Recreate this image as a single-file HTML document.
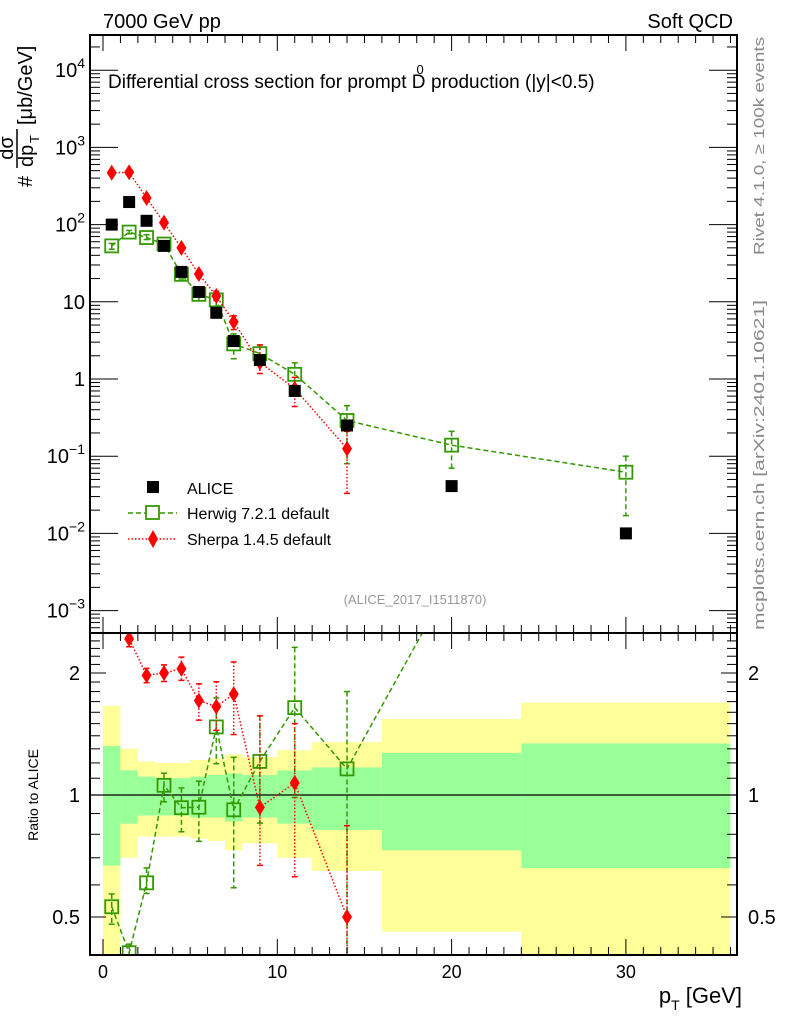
<!DOCTYPE html>
<html><head><meta charset="utf-8">
<style>
html,body{margin:0;padding:0;background:#fff;overflow:hidden;width:786px;height:1024px;}
svg{display:block;font-family:"Liberation Sans",sans-serif;}
</style></head>
<body>
<svg id="chart" width="786" height="1024" viewBox="0 0 786 1024" xmlns="http://www.w3.org/2000/svg">
<g id="ratio-bands"></g>
<g id="marks"></g>
<g id="axes"></g>
<text x="103" y="28" font-size="20">7000 GeV pp</text>
<text x="733" y="28" font-size="20" text-anchor="end">Soft QCD</text>
<text x="108" y="88" font-size="19">Differential cross section for prompt D<tspan font-size="13" dx="-9" dy="-14">0</tspan><tspan dy="14" dx="2"> production (|y|&lt;0.5)</tspan></text>
<g transform="translate(32,187) rotate(-90)">
<text x="0" y="0" font-size="20">#</text>
<text x="39" y="-19" font-size="20" text-anchor="middle">dσ</text>
<line x1="19" y1="-15" x2="58" y2="-15" stroke="#000" stroke-width="1.5"/>
<text x="20" y="1" font-size="20">dp</text>
<text x="44" y="7" font-size="13">T</text>
<text x="62" y="0" font-size="20">[μb/GeV]</text>
</g>
<text transform="translate(764,255) rotate(-90)" font-size="15" fill="#888" textLength="218" lengthAdjust="spacingAndGlyphs">Rivet 4.1.0, ≥ 100k events</text>
<text transform="translate(764,630) rotate(-90)" font-size="15" fill="#888" textLength="330" lengthAdjust="spacingAndGlyphs">mcplots.cern.ch [arXiv:2401.10621]</text>
<text x="415" y="604" font-size="13" fill="#999" text-anchor="middle">(ALICE_2017_I1511870)</text>
<g>
<g><rect x="147" y="481" width="12" height="12" fill="#000"/><text x="187" y="494" font-size="16">ALICE</text></g>
<g><line x1="128" y1="513" x2="177" y2="513" stroke="#339900" stroke-width="1.5" stroke-dasharray="5,3"/><rect x="146" y="506" width="13" height="13" fill="#fff" stroke="#339900" stroke-width="1.8"/><text x="187" y="519" font-size="16">Herwig 7.2.1 default</text></g>
<g><line x1="128" y1="539" x2="177" y2="539" stroke="#ff0000" stroke-width="1.5" stroke-dasharray="1.5,2"/><polygon points="153,530 158,539 153,548 148,539" fill="#ff0000"/><text x="187" y="545" font-size="16">Sherpa 1.4.5 default</text></g>
</g>
<text transform="translate(38,795) rotate(-90)" font-size="14" text-anchor="middle">Ratio to ALICE</text>
<text x="742" y="1003" font-size="22" text-anchor="end">p<tspan font-size="14" dy="7">T</tspan><tspan dy="-7"> [GeV]</tspan></text>
</svg>
<script>
const binEdges=[0,1,2,3,4,5,6,7,8,10,12,16,24,36];
const pt=[0.5,1.5,2.5,3.5,4.5,5.5,6.5,7.5,9,11,14,20,30];
const alice=[100,196,112,53,24.4,13.4,7.2,3.1,1.76,0.70,0.25,0.041,0.0100];
const herwig=[53,80,68,56,22.7,12.5,10.6,2.85,2.13,1.15,0.29,0.139,0.062];
const herwigHi=[57,84,74,60,25.4,14.5,12.5,3.84,2.76,1.62,0.45,0.21,0.10];
const herwigLo=[48,76,64,51,19.8,10.3,8.6,1.83,1.50,0.69,0.08,0.07,0.017];
const sherpa=[470,476,221,106,50,22.9,11.9,5.5,1.64,0.75,0.125];
const sherpaHi=[490,500,230,111,53.4,25.2,13.7,6.6,2.76,1.05,0.21];
const sherpaLo=[450,455,212,101,46.8,20.5,10.4,4.37,1.18,0.44,0.033];
const bandYellowHi=[1.66,1.30,1.21,1.20,1.20,1.22,1.23,1.26,1.24,1.29,1.35,1.54,1.69];
const bandYellowLo=[0.3,0.70,0.79,0.79,0.79,0.78,0.77,0.73,0.76,0.70,0.65,0.46,0.3];
const bandGreenHi=[1.32,1.15,1.11,1.10,1.10,1.11,1.12,1.13,1.12,1.15,1.17,1.27,1.34];
const bandGreenLo=[0.67,0.85,0.89,0.89,0.89,0.88,0.88,0.86,0.88,0.85,0.82,0.73,0.66];
const xTicks=[0,10,20,30];
const mainYTicks=[-3,-2,-1,0,1,2,3,4];
const ratioYTicks=[0.5,1,2];

const NS="http://www.w3.org/2000/svg";
const L=90,R=737,T=35,MB=633,RB=955;
const X=v=>103+v*17.43;
const Y=v=>379-Math.log10(v)*77.2;
const RY=v=>795-Math.log2(v)*122;
function mk(tag,attrs,parent){const e=document.createElementNS(NS,tag);for(const k in attrs)e.setAttribute(k,attrs[k]);parent.appendChild(e);return e;}
const svg=document.getElementById('chart');
const defs=mk('defs',{},svg);
const cpM=mk('clipPath',{id:'cm'},defs);mk('rect',{x:L,y:T,width:R-L,height:MB-T},cpM);
const cpR=mk('clipPath',{id:'cr'},defs);mk('rect',{x:L,y:MB,width:R-L,height:RB-MB},cpR);

const bands=document.getElementById('ratio-bands');
bands.setAttribute('clip-path','url(#cr)');
for(let i=0;i<binEdges.length-1;i++){
  const x1=X(binEdges[i]),x2=X(binEdges[i+1]);
  const y=mk('rect',{x:x1,y:RY(bandYellowHi[i]),width:x2-x1,height:RY(bandYellowLo[i])-RY(bandYellowHi[i]),fill:'#ffff99'},bands);
  
  
  const g=mk('rect',{x:x1,y:RY(bandGreenHi[i]),width:x2-x1,height:RY(bandGreenLo[i])-RY(bandGreenHi[i]),fill:'#99ff99'},bands);
  
  
}
mk('line',{x1:L,y1:RY(1),x2:R,y2:RY(1),stroke:'#000','stroke-width':1.2},bands);

const marks=document.getElementById('marks');
const gm=mk('g',{'clip-path':'url(#cm)'},marks);
const gr=mk('g',{'clip-path':'url(#cr)'},marks);
const GREEN='#339900',RED='#ff0000';
function errbar(g,x,y1,y2,col,dash){
  mk('line',{x1:x,y1:y1,x2:x,y2:y2,stroke:col,'stroke-width':1.5,'stroke-dasharray':dash},g);
  mk('line',{x1:x-3,y1:y1,x2:x+3,y2:y1,stroke:col,'stroke-width':1.5},g);
  mk('line',{x1:x-3,y1:y2,x2:x+3,y2:y2,stroke:col,'stroke-width':1.5},g);
}
function series(g,vals,hi,lo,den,yf,col,dash,kind,top){
  const n=vals.length;
  const pts=[];
  for(let i=0;i<n;i++){const d=den?alice[i]:1;pts.push([X(pt[i]),yf(vals[i]/d)]);}
  const pl=mk('polyline',{points:pts.map(p=>p.join(',')).join(' '),fill:'none',stroke:col,'stroke-width':1.5,'stroke-dasharray':dash},g);
  
  
  for(let i=0;i<n;i++){
    const d=den?alice[i]:1;
    if(pts[i][1]<top-10)continue;
    errbar(g,pts[i][0],yf(hi[i]/d),yf(lo[i]/d),col,dash);
    let m;
    if(kind.indexOf('herwig')===0){m=mk('rect',{x:pts[i][0]-6.5,y:pts[i][1]-6.5,width:13,height:13,fill:'none',stroke:col,'stroke-width':1.8},g);}
    else{const [x,y]=pts[i];m=mk('polygon',{points:`${x},${y-8} ${x+5},${y} ${x},${y+8} ${x-5},${y}`,fill:col},g);}
    
    
  }
}
series(gm,herwig,herwigHi,herwigLo,false,Y,GREEN,'5,3','herwig',T);
series(gm,sherpa,sherpaHi,sherpaLo,false,Y,RED,'1.5,2','sherpa',T);
for(let i=0;i<alice.length;i++){
  const r=mk('rect',{x:X(pt[i])-6,y:Y(alice[i])-6,width:12,height:12,fill:'#000'},gm);
  
  
}
series(gr,herwig,herwigHi,herwigLo,true,RY,GREEN,'5,3','herwig-ratio',MB);
series(gr,sherpa,sherpaHi,sherpaLo,true,RY,RED,'1.5,2','sherpa-ratio',MB);

const ax=document.getElementById('axes');
mk('rect',{x:L,y:T,width:R-L,height:MB-T,fill:'none',stroke:'#000','stroke-width':2},ax);
mk('rect',{x:L,y:MB,width:R-L,height:RB-MB,fill:'none',stroke:'#000','stroke-width':2},ax);
function tk(x1,y1,x2,y2){mk('line',{x1,y1,x2,y2,stroke:'#000','stroke-width':1},ax);}
for(let v=0;v<=36;v++){
  const x=X(v),len=(v%10===0)?16:8;
  tk(x,T,x,T+len);tk(x,MB,x,MB-len);tk(x,MB,x,MB+len);tk(x,RB,x,RB-len);
}
xTicks.forEach(v=>{const t=mk('text',{x:X(v),y:978,'font-size':18,'text-anchor':'middle'},ax);t.textContent=v;

});
for(let e=-4;e<=4;e++){
  for(let m=1;m<10;m++){
    const v=m*Math.pow(10,e);const y=Y(v);if(y<T||y>MB)continue;
    const len=m===1?28:10;tk(L,y,L+len,y);tk(R,y,R-len,y);
  }
}
mainYTicks.forEach(e=>{
  const t=mk('text',{x:85,y:Y(Math.pow(10,e))+7,'font-size':20,'text-anchor':'end'},ax);
  
  
  if(e===0)t.textContent='1';else if(e===1)t.textContent='10';
  else{t.textContent='10';const s=mk('tspan',{'font-size':14,dy:-9},t);s.textContent=e<0?'\u2212'+(-e):String(e);}
});
for(let v=0.4;v<=2.5;v+=0.1){
  const y=RY(v);if(y<MB||y>RB)continue;
  const major=Math.abs(v-0.5)<1e-6||Math.abs(v-1)<1e-6||Math.abs(v-2)<1e-6;
  const len=major?16:10;tk(L,y,L+len,y);tk(R,y,R-len,y);
}
ratioYTicks.forEach(v=>{
  const a=mk('text',{x:80,y:RY(v)+7,'font-size':20,'text-anchor':'end'},ax);a.textContent=v;
  
  
  const b=mk('text',{x:748,y:RY(v)+7,'font-size':20},ax);b.textContent=v;
  
  
});
</script>
</body></html>
